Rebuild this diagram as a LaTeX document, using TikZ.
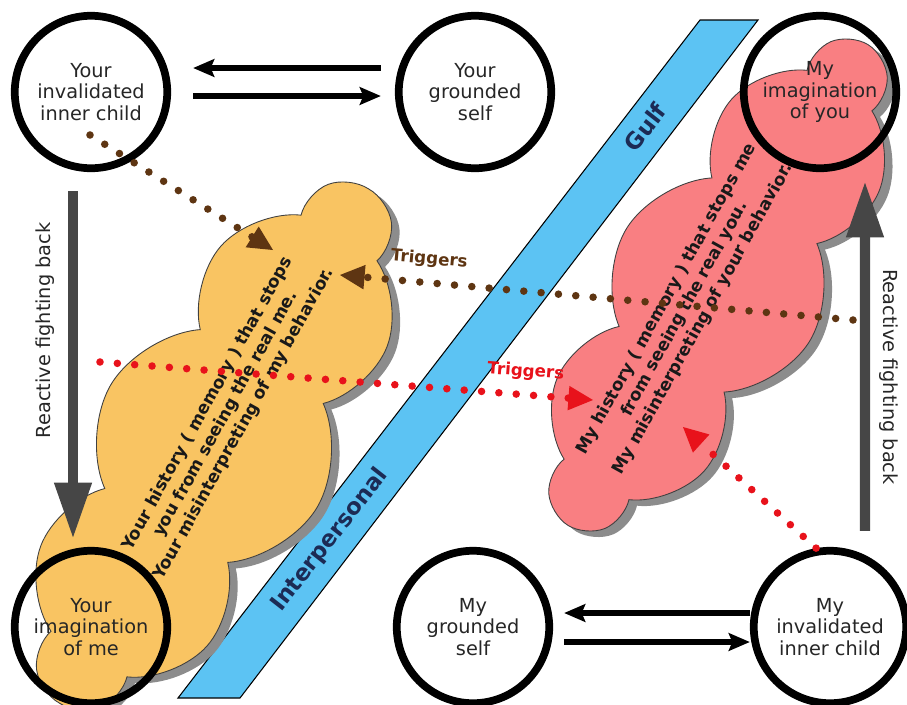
\documentclass[tikz,border=0pt]{standalone}
\usepackage{fontspec}
\setmainfont{DejaVu Sans}
\usetikzlibrary{shapes.symbols}
\usetikzlibrary{arrows.meta}
\definecolor{cloudy}{HTML}{F9C462}
\definecolor{cloudp}{HTML}{F97F82}
\definecolor{gulfblue}{HTML}{5CC3F3}
\definecolor{trigbrown}{HTML}{5E3512}
\definecolor{trigred}{HTML}{E8121B}
\definecolor{fightgray}{HTML}{464646}
\definecolor{gulfnavy}{HTML}{1C2B55}
\tikzset{
    ringnode/.style = {circle, line width=4.4pt, draw=black, minimum size=3.05cm, align=center, font=\fontsize{11}{12.3}\selectfont, text=black!85},
    cloudnode/.style = {cloud, cloud puffs=10, cloud puff arc=110, cloud ignores aspect, draw=black!75, line width=0.5pt, inner sep=0pt},
    shadownode/.style = {cloud, cloud puffs=10, cloud puff arc=110, cloud ignores aspect, fill=black!45, inner sep=0pt},
    cloudtext/.style = {align=center, font=\fontsize{9.7}{11.8}\selectfont\bfseries, text=black!90, rotate=61},
    gulftext/.style = {font=\fontsize{13}{15}\selectfont\bfseries, text=gulfnavy, rotate=52},
    edgen/.style = {line width=3.4pt, black, -{Stealth[length=12pt,width=10pt,inset=2pt]}},
    edgefight/.style = {line width=5.7pt, fightgray, -{Triangle[length=32pt,width=20pt]}},
    edgebr/.style = {trigbrown, line width=4.3pt, line cap=round, dash pattern=on 0pt off 9.9pt, -{Triangle[length=14pt,width=14pt,line width=0pt]}},
    edgerd/.style = {trigred, line width=4.3pt, line cap=round, dash pattern=on 0pt off 9.9pt, -{Triangle[length=14pt,width=14pt,line width=0pt]}},
    triglabel/.style = {font=\fontsize{9.5}{11}\selectfont\bfseries, sloped, above=3pt},
    fightlabel/.style = {font=\fontsize{11}{12}\selectfont, text=black!85, anchor=south, inner sep=0pt}
}

\begin{document}
\begin{tikzpicture}[x=0.02cm, y=-0.02cm]
  \useasboundingbox (0,0) rectangle (907,704);

  % the gulf
  \fill[gulfblue, draw=black, line width=0.6pt] (700,20) -- (758,20) -- (240,698) -- (178,698) -- cycle;
  \node[gulftext] (gulf) at (645,127) {Gulf};
  \node[gulftext] (inter) at (330,540) {Interpersonal};

  % clouds
  \node[shadownode, minimum width=11.9cm, minimum height=4.8cm, rotate=59] (yshadow) at (222,452) {};
  \node[cloudnode, fill=cloudy, minimum width=11.9cm, minimum height=4.8cm, rotate=59] (ycloud) at (214,446) {};
  \node[shadownode, minimum width=11.2cm, minimum height=4.3cm, rotate=58] (myshadow) at (726,291) {};
  \node[cloudnode, fill=cloudp, minimum width=11.2cm, minimum height=4.3cm, rotate=58] (mycloud) at (718,285) {};
  \node[cloudtext] (ytext) at (226,414) {Your history ( memory ) that stops\\you from seeing the real me.\\Your misinterpreting of my behavior.};
  \node[cloudtext] (mytext) at (685,309) {My history ( memory ) that stops me\\from seeing the real you.\\My misinterpreting of your behavior.};

  % rings
  \node[ringnode] (yinner) at (91,92) {Your\\invalidated\\inner child};
  \node[ringnode] (yself) at (475,92) {Your\\grounded\\self};
  \node[ringnode] (myimag) at (820,92) {My\\imagination\\of you};
  \node[ringnode] (yimag) at (91,627) {Your\\imagination\\of me};
  \node[ringnode] (myself) at (473,627) {My\\grounded\\self};
  \node[ringnode] (myinner) at (830,627) {My\\invalidated\\inner child};

  % triggers
  \coordinate (b1s) at (90,135);
  \coordinate (b1e) at (273,250);
  \coordinate (b2s) at (853,320);
  \coordinate (b2e) at (340,275);
  \coordinate (r1s) at (100,362);
  \coordinate (r1e) at (593,400);
  \coordinate (r2e) at (683,427);
  \draw[edgebr] (b1s) -- (b1e);
  \draw[edgebr] (b2s) -- node[triglabel, pos=0.83, text=trigbrown] {Triggers} (b2e);
  \draw[edgerd] (r1s) -- node[triglabel, pos=0.86, text=trigred] {Triggers} (r1e);
  \draw[edgerd] (myinner.100) -- (r2e);

  % between self and inner child
  \draw[edgen] ([xshift=-0.28cm,yshift=0.48cm]yself.west) -- ([xshift=0.44cm,yshift=0.48cm]yinner.east);
  \draw[edgen] ([xshift=0.44cm,yshift=-0.08cm]yinner.east) -- ([xshift=-0.28cm,yshift=-0.08cm]yself.west);
  \draw[edgen] ([yshift=0.28cm]myinner.west) -- ([xshift=0.22cm,yshift=0.28cm]myself.east);
  \draw[edgen] ([xshift=0.22cm,yshift=-0.3cm]myself.east) -- ([yshift=-0.3cm]myinner.west);

  % fighting back
  \draw[edgefight] ([xshift=-0.36cm,yshift=-0.38cm]yinner.south) -- node[fightlabel, pos=0.4, rotate=90, outer sep=10.4pt] {Reactive fighting back} ([xshift=-0.36cm,yshift=0.16cm]yimag.north);
  \draw[edgefight] ([xshift=0.7cm,yshift=0.32cm]myinner.north) -- node[fightlabel, pos=0.44, rotate=-90, outer sep=8pt] {Reactive fighting back} ([xshift=0.9cm,yshift=-0.18cm]myimag.south);
\end{tikzpicture}
\end{document}
